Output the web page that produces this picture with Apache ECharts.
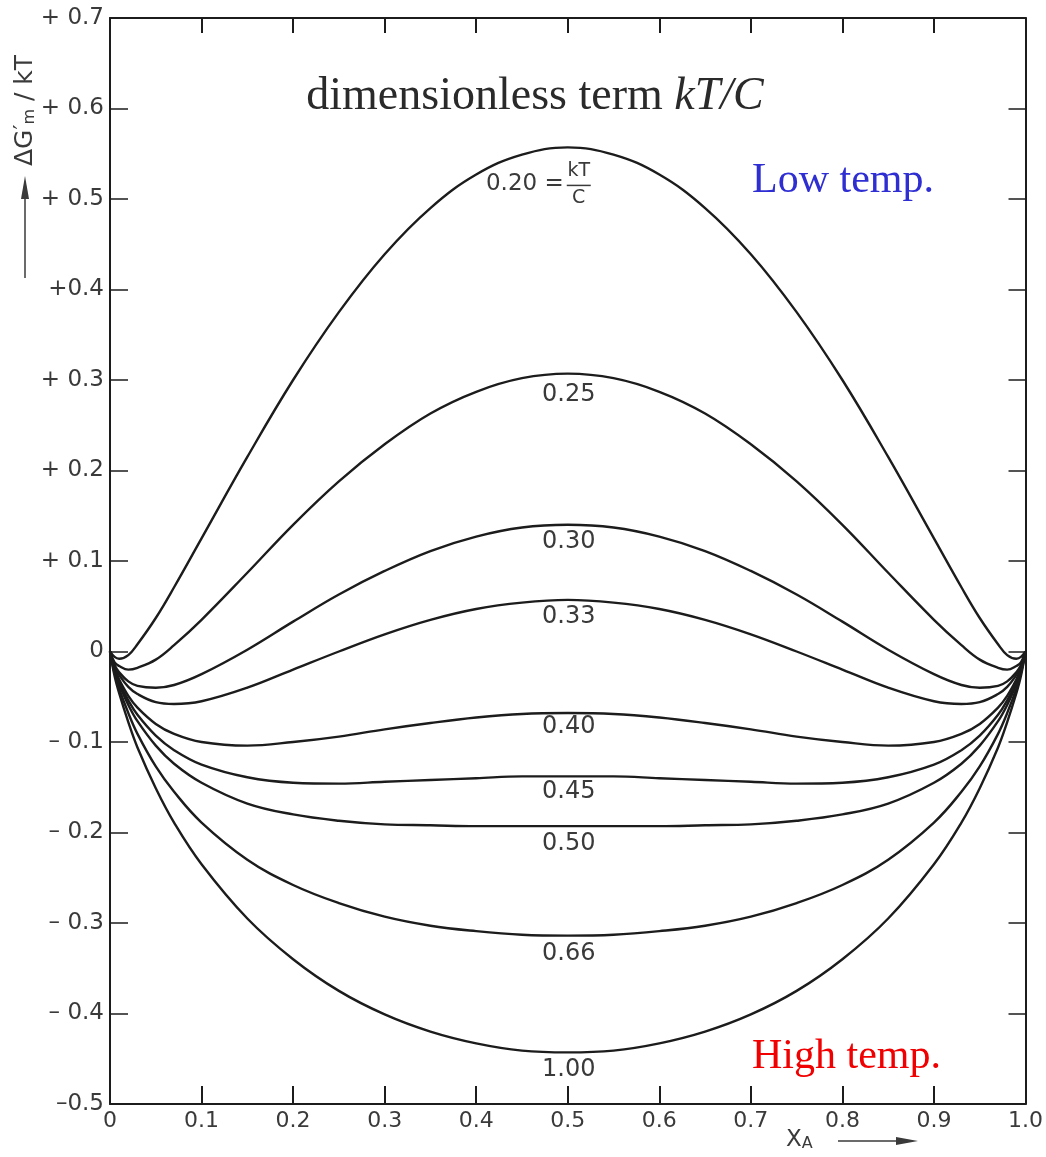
<!DOCTYPE html>
<html lang="en">

<head>
  <meta charset="UTF-8">
  <title>dimensionless term kT/C</title>
  <script src="https://cdn.jsdelivr.net/npm/echarts@6/dist/echarts.min.js"></script>
  <style>
    html, body { margin: 0; padding: 0; background: #fff; }
    #chart { width: 1046px; height: 1157px; }
  </style>
</head>

<body>
  <div id="chart"></div>
</body>

</html>
<script type="text/javascript">
  // mole fraction X_A
  const xA = [0, 0.005, 0.01, 0.02, 0.03, 0.05, 0.07, 0.1, 0.15, 0.2, 0.25, 0.3, 0.35, 0.4, 0.45, 0.5,
    0.55, 0.6, 0.65, 0.7, 0.75, 0.8, 0.85, 0.9, 0.93, 0.95, 0.97, 0.98, 0.99, 0.995, 1];

  // ΔG'm/kT (kT/C = ...)
  const g020 = [0, -0.006, -0.008, -0.004, 0.008, 0.037, 0.071, 0.125, 0.215, 0.300, 0.375, 0.439, 0.490, 0.527, 0.549, 0.557,
    0.549, 0.527, 0.490, 0.439, 0.375, 0.300, 0.215, 0.125, 0.071, 0.037, 0.008, -0.004, -0.008, -0.006, 0];
  const g025 = [0, -0.012, -0.016, -0.020, -0.018, -0.009, 0.007, 0.035, 0.087, 0.140, 0.188, 0.229, 0.263, 0.287, 0.302, 0.307,
    0.302, 0.287, 0.263, 0.229, 0.188, 0.140, 0.087, 0.035, 0.007, -0.009, -0.018, -0.020, -0.016, -0.012, 0];
  const g030 = [0, -0.015, -0.023, -0.033, -0.038, -0.040, -0.037, -0.025, 0.002, 0.033, 0.063, 0.089, 0.111, 0.127, 0.137, 0.140,
    0.137, 0.127, 0.111, 0.089, 0.063, 0.033, 0.002, -0.025, -0.037, -0.040, -0.038, -0.033, -0.023, -0.015, 0];
  const g033 = [0, -0.017, -0.026, -0.039, -0.047, -0.056, -0.058, -0.055, -0.040, -0.020, 0.000, 0.019, 0.035, 0.047, 0.054, 0.057,
    0.054, 0.047, 0.035, 0.019, 0.000, -0.020, -0.040, -0.055, -0.058, -0.056, -0.047, -0.039, -0.026, -0.017, 0];
  const g040 = [0, -0.019, -0.031, -0.049, -0.062, -0.080, -0.091, -0.100, -0.104, -0.100, -0.094, -0.086, -0.079, -0.073, -0.069, -0.068,
    -0.069, -0.073, -0.079, -0.086, -0.094, -0.100, -0.104, -0.100, -0.091, -0.080, -0.062, -0.049, -0.031, -0.019, 0];
  const g045 = [0, -0.020, -0.034, -0.054, -0.070, -0.093, -0.109, -0.125, -0.139, -0.145, -0.146, -0.144, -0.142, -0.140, -0.138, -0.138,
    -0.138, -0.140, -0.142, -0.144, -0.146, -0.145, -0.139, -0.125, -0.109, -0.093, -0.070, -0.054, -0.034, -0.020, 0];
  const g050 = [0, -0.022, -0.036, -0.059, -0.077, -0.104, -0.124, -0.145, -0.168, -0.180, -0.187, -0.191, -0.192, -0.193, -0.193, -0.193,
    -0.193, -0.193, -0.192, -0.191, -0.187, -0.180, -0.168, -0.145, -0.124, -0.104, -0.077, -0.059, -0.036, -0.022, 0];
  const g066 = [0, -0.024, -0.041, -0.068, -0.091, -0.127, -0.155, -0.189, -0.230, -0.258, -0.278, -0.293, -0.303, -0.309, -0.313, -0.314,
    -0.313, -0.309, -0.303, -0.293, -0.278, -0.258, -0.230, -0.189, -0.155, -0.127, -0.091, -0.068, -0.041, -0.024, 0];
  const g100 = [0, -0.027, -0.046, -0.078, -0.106, -0.151, -0.189, -0.235, -0.295, -0.340, -0.375, -0.401, -0.420, -0.433, -0.441, -0.443,
    -0.441, -0.433, -0.420, -0.401, -0.375, -0.340, -0.295, -0.235, -0.189, -0.151, -0.106, -0.078, -0.046, -0.027, 0];

  const curveNames = ['0.20', '0.25', '0.30', '0.33', '0.40', '0.45', '0.50', '0.66', '1.00'];
  const curveValues = [g020, g025, g030, g033, g040, g045, g050, g066, g100];

  // tick labels
  const xTickText = ['0', '0.1', '0.2', '0.3', '0.4', '0.5', '0.6', '0.7', '0.8', '0.9', '1.0'];
  const yTickText = ['–0.5', '– 0.4', '– 0.3', '– 0.2', '– 0.1', '0', '+ 0.1', '+ 0.2', '+ 0.3', '+0.4', '+ 0.5', '+ 0.6', '+ 0.7'];

  // label distance below each curve at X_A = 0.5 (px)
  const labelDrop = [37, 21, 17, 17, 14, 15, 18, 18, 17];

  const numFont = '"DejaVu Sans", "Noto Sans", sans-serif';
  const serifFont = '"Liberation Serif", "DejaVu Serif", serif';
  const ink = '#1c1c1c';
  const textInk = '#3a3a3a';

  let chart = echarts.init(document.getElementById('chart'));

  let frameLine = { show: true, onZero: false, lineStyle: { color: ink, width: 2 } };

  let option = {
    animation: false,
    backgroundColor: '#fff',
    grid: { left: 110, right: 16, top: 18, bottom: 53, containLabel: false },
    xAxis: [{
      type: 'value', min: 0, max: 1, interval: 0.1, position: 'bottom',
      axisLine: frameLine,
      axisTick: { inside: true, length: 18, lineStyle: { color: ink, width: 2 } },
      axisLabel: {
        margin: 6, fontSize: 22, color: textInk, fontFamily: numFont,
        formatter: function (v) { return xTickText[Math.round(v * 10)]; }
      },
      splitLine: { show: false }
    }, {
      type: 'value', min: 0, max: 1, interval: 0.1, position: 'top',
      axisLine: frameLine,
      axisTick: { inside: true, length: 15, lineStyle: { color: ink, width: 2 } },
      axisLabel: { show: false },
      splitLine: { show: false }
    }],
    yAxis: [{
      type: 'value', min: -0.5, max: 0.7, interval: 0.1, position: 'left',
      axisLine: frameLine,
      axisTick: { inside: true, length: 18, lineStyle: { color: ink, width: 1.5 } },
      axisLabel: {
        margin: 6, fontSize: 23, color: textInk, fontFamily: numFont,
        formatter: function (v) { return yTickText[Math.round(v * 10) + 5]; }
      },
      splitLine: { show: false }
    }, {
      type: 'value', min: -0.5, max: 0.7, interval: 0.1, position: 'right',
      axisLine: frameLine,
      axisTick: { inside: true, length: 17, lineStyle: { color: ink, width: 1.5 } },
      axisLabel: { show: false },
      splitLine: { show: false }
    }],
    series: curveValues.map(function (vals, k) {
      return {
        name: curveNames[k],
        type: 'line',
        symbol: 'none',
        smooth: 0.4,
        lineStyle: { color: ink, width: 2.4 },
        data: xA.map(function (x, i) { return [x, vals[i]]; })
      };
    })
  };
  chart.setOption(option);

  // annotations
  let g = [];
  let mid = xA.indexOf(0.5);
  curveValues.forEach(function (vals, k) {
    let p = chart.convertToPixel({ gridIndex: 0 }, [0.5, vals[mid]]);
    if (k === 0) {
      g.push({ type: 'text', x: p[0] - 4, y: p[1] + labelDrop[k], style: { text: '0.20 =', font: '23px ' + numFont, fill: textInk, align: 'right', verticalAlign: 'middle' } });
      g.push({ type: 'text', x: p[0] + 11, y: p[1] + labelDrop[k] - 13, style: { text: 'kT', font: '19px ' + numFont, fill: textInk, align: 'center', verticalAlign: 'middle' } });
      g.push({ type: 'line', shape: { x1: p[0] - 1, y1: p[1] + labelDrop[k] + 1, x2: p[0] + 23, y2: p[1] + labelDrop[k] + 1 }, style: { stroke: textInk, lineWidth: 1.5 } });
      g.push({ type: 'text', x: p[0] + 11, y: p[1] + labelDrop[k] + 14, style: { text: 'C', font: '19px ' + numFont, fill: textInk, align: 'center', verticalAlign: 'middle' } });
    } else {
      g.push({ type: 'text', x: p[0] + 1, y: p[1] + labelDrop[k], style: { text: curveNames[k], font: '24px ' + numFont, fill: textInk, align: 'center', verticalAlign: 'middle' } });
    }
  });

  // title and temperature notes
  g.push({
    type: 'text', x: 535, y: 97,
    style: {
      text: '{n|dimensionless term }{i|kT/C}', align: 'center', verticalAlign: 'middle',
      rich: {
        n: { fontFamily: serifFont, fontSize: 46, fill: '#2a2a2a' },
        i: { fontFamily: serifFont, fontSize: 46, fontStyle: 'italic', fill: '#2a2a2a' }
      }
    }
  });
  g.push({ type: 'text', x: 752, y: 181, style: { text: 'Low temp.', font: '42px ' + serifFont, fill: '#2e2ed2', align: 'left', verticalAlign: 'middle' } });
  g.push({ type: 'text', x: 752, y: 1057, style: { text: 'High temp.', font: '42px ' + serifFont, fill: '#f00000', align: 'left', verticalAlign: 'middle' } });

  // axis names with arrows
  g.push({
    type: 'text', x: 25, y: 166, rotation: Math.PI / 2,
    style: {
      text: '{a|ΔG}{p|′}{s|m}{a| / kT}', align: 'left', verticalAlign: 'middle',
      rich: {
        a: { fontFamily: numFont, fontSize: 25, fill: textInk },
        p: { fontFamily: numFont, fontSize: 22, fill: textInk, verticalAlign: 'top' },
        s: { fontFamily: numFont, fontSize: 16, fill: textInk, verticalAlign: 'bottom' }
      }
    }
  });
  g.push({ type: 'line', shape: { x1: 25, y1: 278, x2: 25, y2: 192 }, style: { stroke: textInk, lineWidth: 1.5 } });
  g.push({ type: 'polygon', shape: { points: [[25, 176], [21, 199], [29, 199]] }, style: { fill: textInk } });

  g.push({
    type: 'text', x: 786, y: 1140,
    style: {
      text: '{a|X}{s|A}', align: 'left', verticalAlign: 'middle',
      rich: {
        a: { fontFamily: numFont, fontSize: 23, fill: textInk },
        s: { fontFamily: numFont, fontSize: 16, fill: textInk, verticalAlign: 'bottom' }
      }
    }
  });
  g.push({ type: 'line', shape: { x1: 838, y1: 1141, x2: 900, y2: 1141 }, style: { stroke: textInk, lineWidth: 1.5 } });
  g.push({ type: 'polygon', shape: { points: [[918, 1141], [896, 1137], [896, 1145]] }, style: { fill: textInk } });

  chart.setOption({ graphic: g });
</script>
